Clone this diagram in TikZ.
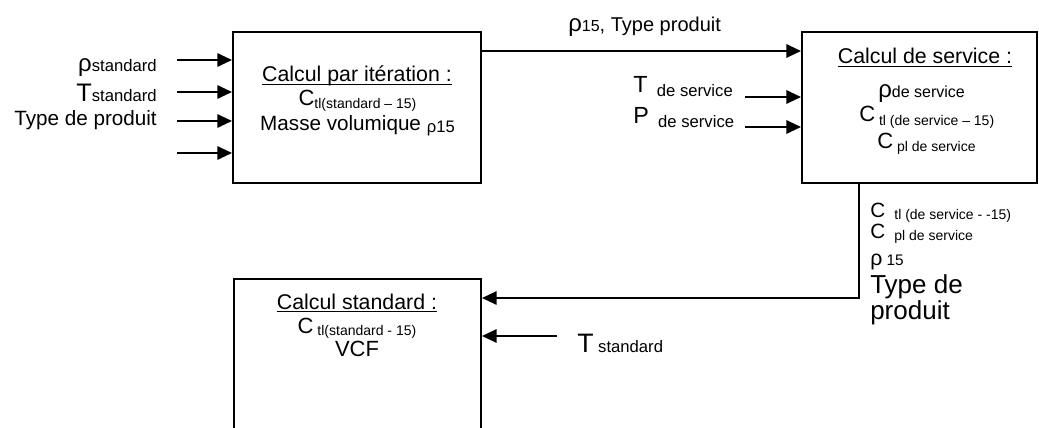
\documentclass[tikz,border=0pt]{standalone}
\usepackage{fontspec}
\setmainfont{Liberation Sans}
\usetikzlibrary{arrows.meta}
\newcommand{\fsz}[1]{\fontsize{#1}{#1}\selectfont}
\newcommand{\myul}[1]{\sbox0{#1}\rlap{\rule[-2.2pt]{\wd0}{0.8pt}}\usebox0}
\begin{document}
\begin{tikzpicture}[x=0.75pt,y=-0.75pt,
  box/.style={draw,line width=1.5pt,inner sep=0pt},
  arr/.style={line width=1.5pt,-{Triangle[length=11pt,width=10pt]}},
  txt/.style={inner sep=0pt}]
\useasboundingbox (0,0) rectangle (1039,428);
\clip (0,0) rectangle (1039,428);
% boxes
\node[box,minimum width=186pt,minimum height=113.25pt] (b1) at (357,107.5) {};
\node[box,minimum width=176.25pt,minimum height=113.25pt] (b2) at (919.5,107.5) {};
\node[box,minimum width=185.25pt,minimum height=135.75pt] (b3) at (357.5,369.5) {};
% inputs of box 1
\coordinate (i1) at (177,60);
\coordinate (i2) at (177,92);
\coordinate (i3) at (177,121);
\coordinate (i4) at (177,153);
\draw[arr] (i1) -- (i1 -| b1.west);
\draw[arr] (i2) -- (i2 -| b1.west);
\draw[arr] (i3) -- (i3 -| b1.west);
\draw[arr] (i4) -- (i4 -| b1.west);
\node[txt,anchor=base east] (l1) at (157,72) {\fsz{18}ρ\fsz{12.5}standard};
\node[txt,anchor=base east] (l2) at (157,102) {\fsz{19}T\fsz{12.5}standard};
\node[txt,anchor=base east] (l3) at (157,125) {\fsz{15.5}Type de produit};
% box 1 text
\node[txt,anchor=base] (h1) at (357,82) {\fsz{16}\myul{Calcul par itération :}};
\node[txt,anchor=base] (h1a) at (357.5,106) {\fsz{16.5}C\raisebox{-2pt}{\fsz{10.5}tl(standard – 15)}};
\node[txt,anchor=base] (h1b) at (357.5,131) {\fsz{15.5}Masse volumique \raisebox{-1pt}{\fsz{12.5}ρ15}};
% box1 -> box2
\draw[arr] (b1.east |- 0,51) -- (b2.west |- 0,51);
\node[txt,anchor=base west] (lab1) at (568,32) {\fsz{18}ρ\fsz{12}15\fsz{15}, Type produit};
% inputs of box 2
\coordinate (ts) at (745,97);
\coordinate (ps) at (745,127);
\draw[arr] (ts) -- (ts -| b2.west);
\draw[arr] (ps) -- (ps -| b2.west);
\node[txt,anchor=base west] (l4) at (633,93) {\fsz{17.5}T\hspace{7pt}\raisebox{-3pt}{\fsz{12.5}de service}};
\node[txt,anchor=base west] (l5) at (633,123) {\fsz{17.5}P\hspace{7pt}\raisebox{-3pt}{\fsz{12.5}de service}};
% box 2 text
\node[txt,anchor=base] (h2) at (925,64) {\fsz{16}\myul{Calcul de service :}};
\node[txt,anchor=base west] (h2a) at (878,98) {\fsz{18}ρ\fsz{12}de service};
\node[txt,anchor=base west] (h2b) at (859,122) {\fsz{16.5}C\raisebox{-2.5pt}{\fsz{10.5} tl (de service – 15)}};
\node[txt,anchor=base west] (h2c) at (877,148) {\fsz{16.5}C\raisebox{-2.5pt}{\fsz{10.5} pl de service}};
% box2 -> box3
\coordinate (c1) at (859,298);
\draw[arr] (b2.south -| c1) -- (c1) -- (c1 -| b3.east);
\node[txt,anchor=base west] (r1) at (870,217) {\fsz{15.5}C\raisebox{-2pt}{\fsz{10.5}\hspace{4pt} tl (de service - -15)}};
\node[txt,anchor=base west] (r2) at (870,238) {\fsz{15.5}C\raisebox{-2pt}{\fsz{10.5}\hspace{4pt} pl de service}};
\node[txt,anchor=base west] (r3) at (870,265) {\fsz{16}ρ\fsz{11.5} 15};
\node[txt,anchor=base west] (r4) at (870,293) {\fsz{19.5}Type de};
\node[txt,anchor=base west] (r5) at (870,319) {\fsz{19.5}produit};
% T standard input of box 3
\coordinate (tst) at (557,336);
\draw[arr] (tst) -- (tst -| b3.east);
\node[txt,anchor=base west] (l6) at (577,352) {\fsz{20}T\fsz{12.5} standard};
% box 3 text
\node[txt,anchor=base] (h3) at (357,309) {\fsz{16}\myul{Calcul standard :}};
\node[txt,anchor=base] (h3a) at (357,333) {\fsz{16.5}C\raisebox{-2pt}{\fsz{10.5} tl(standard - 15)}};
\node[txt,anchor=base] (h3b) at (357,356) {\fsz{16.5}VCF};
\end{tikzpicture}
\end{document}
